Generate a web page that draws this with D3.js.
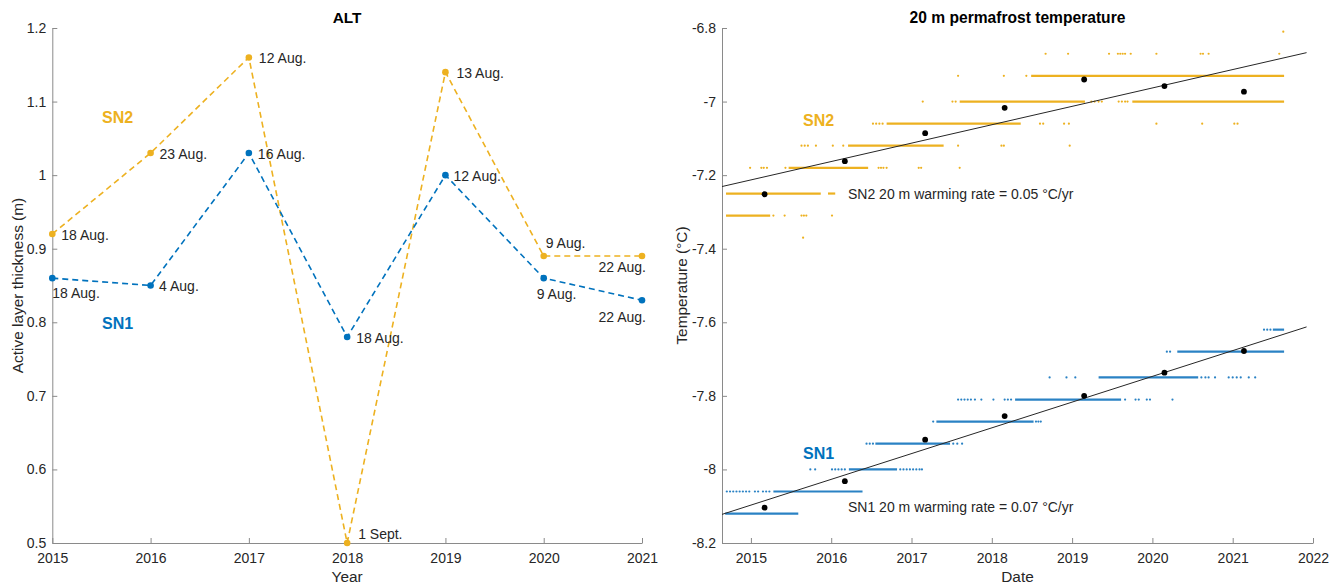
<!DOCTYPE html>
<html>
<head>
<meta charset="utf-8">
<script src="https://cdn.jsdelivr.net/npm/d3@7"></script>
<style>
  html, body { margin: 0; padding: 0; background: #fff; }
  svg { display: block; font-family: "Liberation Sans", Arial, Helvetica, sans-serif; }
  .axis path, .axis line { stroke: #8a8a8a; }
  .axis text { fill: #262626; font-size: 14px; }
</style>
</head>
<body>
<svg id="fig" width="1338" height="587"></svg>
<script>
// ---------- Active layer thickness (end-of-season probing) ----------
const altYears = [2015, 2016, 2017, 2018, 2019, 2020, 2021];
const altSN1 = [0.86, 0.85, 1.03, 0.78, 1.00, 0.86, 0.83];
const altSN2 = [0.92, 1.03, 1.16, 0.50, 1.14, 0.89, 0.89];
const altDatesSN1 = ["18 Aug.", "4 Aug.", "16 Aug.", "18 Aug.", "12 Aug.", "9 Aug.", "22 Aug."];
const altDatesSN2 = ["18 Aug.", "23 Aug.", "12 Aug.", "1 Sept.", "13 Aug.", "9 Aug.", "22 Aug."];
const altYTicks = [0.5, 0.6, 0.7, 0.8, 0.9, 1.0, 1.1, 1.2];

// ---------- 20 m permafrost temperature ----------
const tempXTicks = [2015, 2016, 2017, 2018, 2019, 2020, 2021, 2022];
const tempYTicks = [-8.2, -8.0, -7.8, -7.6, -7.4, -7.2, -7.0, -6.8];

// annual means (decimal year, °C)
const meanDates = [2015.17, 2016.17, 2017.17, 2018.16, 2019.15, 2020.15, 2021.14];
const meanSN1 = [-8.104, -8.032, -7.919, -7.855, -7.800, -7.737, -7.678];
const meanSN2 = [-7.252, -7.162, -7.086, -7.017, -6.940, -6.958, -6.973];

// linear warming trends
const rateSN1 = 0.07;
const rateSN2 = 0.05;
const trendPivotYear = 2018.3;
const trendPivotSN1 = -7.866;
const trendPivotSN2 = -7.048;
const trendSpan = [2014.64, 2021.92];

// logger readings: continuous runs [value, fromYear, toYear]
const runsSN2 = [
  [-7.31, 2014.69, 2015.24],
  [-7.25, 2014.69, 2015.87],
  [-7.25, 2015.96, 2016.05],
  [-7.18, 2015.47, 2016.46],
  [-7.12, 2016.21, 2017.40],
  [-7.06, 2016.69, 2018.36],
  [-7.00, 2017.60, 2019.16],
  [-7.00, 2019.75, 2021.64],
  [-6.93, 2018.49, 2021.64]
];
// isolated readings [value, year]
const dotsSN2 = [
  [-7.37, 2015.65],
  [-7.31, 2015.28], [-7.31, 2015.42], [-7.31, 2015.63], [-7.31, 2015.66], [-7.31, 2015.69], [-7.31, 2016.01],
  [-7.18, 2014.99], [-7.18, 2015.13], [-7.18, 2015.16], [-7.18, 2015.20], [-7.18, 2015.43],
  [-7.18, 2016.59], [-7.18, 2016.62], [-7.18, 2016.65], [-7.18, 2016.69],
  [-7.18, 2017.09], [-7.18, 2017.12], [-7.18, 2017.60],
  [-7.12, 2015.63], [-7.12, 2015.67], [-7.12, 2015.71], [-7.12, 2015.81], [-7.12, 2016.02],
  [-7.12, 2016.15], [-7.12, 2017.58], [-7.12, 2018.12], [-7.12, 2018.15], [-7.12, 2018.97],
  [-7.06, 2016.52], [-7.06, 2016.56], [-7.06, 2016.60], [-7.06, 2016.64],
  [-7.06, 2018.60], [-7.06, 2018.64], [-7.06, 2018.90], [-7.06, 2018.96],
  [-7.06, 2020.05], [-7.06, 2020.62], [-7.06, 2021.02], [-7.06, 2021.06],
  [-7.00, 2017.14], [-7.00, 2017.51], [-7.00, 2017.55],
  [-7.00, 2019.24], [-7.00, 2019.28], [-7.00, 2019.33], [-7.00, 2019.37],
  [-7.00, 2019.58], [-7.00, 2019.62], [-7.00, 2019.66], [-7.00, 2019.69],
  [-6.93, 2017.58], [-6.93, 2018.15], [-6.93, 2018.43],
  [-6.87, 2018.67], [-6.87, 2018.95], [-6.87, 2019.46], [-6.87, 2019.57], [-6.87, 2019.60],
  [-6.87, 2019.63], [-6.87, 2019.66], [-6.87, 2019.73], [-6.87, 2020.05],
  [-6.87, 2020.60], [-6.87, 2020.63], [-6.87, 2020.70], [-6.87, 2021.58],
  [-6.81, 2021.63]
];

const runsSN1 = [
  [-8.12, 2014.68, 2015.59],
  [-8.06, 2015.28, 2016.39],
  [-8.00, 2016.22, 2016.82],
  [-7.93, 2016.55, 2017.48],
  [-7.87, 2017.31, 2018.52],
  [-7.81, 2018.29, 2019.61],
  [-7.75, 2019.33, 2020.57],
  [-7.68, 2020.31, 2021.64],
  [-7.62, 2021.50, 2021.64]
];
const dotsSN1 = [
  [-8.06, 2014.70], [-8.06, 2014.74], [-8.06, 2014.78], [-8.06, 2014.82], [-8.06, 2014.86],
  [-8.06, 2014.90], [-8.06, 2014.94], [-8.06, 2014.98], [-8.06, 2015.05], [-8.06, 2015.09],
  [-8.06, 2015.15], [-8.06, 2015.19], [-8.06, 2015.23],
  [-8.00, 2015.74], [-8.00, 2015.80], [-8.00, 2016.01], [-8.00, 2016.05], [-8.00, 2016.09],
  [-8.00, 2016.13], [-8.00, 2016.17], [-8.00, 2016.86], [-8.00, 2016.90], [-8.00, 2016.94],
  [-8.00, 2016.98], [-8.00, 2017.02], [-8.00, 2017.06], [-8.00, 2017.10], [-8.00, 2017.13],
  [-7.93, 2016.44], [-7.93, 2016.48], [-7.93, 2016.52], [-7.93, 2017.52], [-7.93, 2017.57], [-7.93, 2017.63],
  [-7.87, 2017.27], [-7.87, 2018.55], [-7.87, 2018.58], [-7.87, 2018.61],
  [-7.81, 2017.58], [-7.81, 2017.62], [-7.81, 2017.66], [-7.81, 2017.70], [-7.81, 2017.74],
  [-7.81, 2017.79], [-7.81, 2017.87], [-7.81, 2018.02], [-7.81, 2018.16], [-7.81, 2018.20],
  [-7.81, 2018.24], [-7.81, 2019.66], [-7.81, 2019.79], [-7.81, 2019.83], [-7.81, 2019.93],
  [-7.81, 2019.97], [-7.81, 2020.25],
  [-7.75, 2018.72], [-7.75, 2018.93], [-7.75, 2019.04], [-7.75, 2020.61], [-7.75, 2020.66],
  [-7.75, 2020.70], [-7.75, 2020.78], [-7.75, 2020.95], [-7.75, 2021.00], [-7.75, 2021.05],
  [-7.75, 2021.10], [-7.75, 2021.20], [-7.75, 2021.28],
  [-7.68, 2020.18], [-7.68, 2020.22],
  [-7.62, 2021.39], [-7.62, 2021.43], [-7.62, 2021.47]
];

// ---------- styling ----------
const COL_SN1 = "#0072BD";
const COL_SN2 = "#EDB120";
const COL_SN1_LOG = "#2a82c4";
const TEXT = "#262626";

const svg = d3.select("#fig");
svg.append("rect").attr("width", 1338).attr("height", 587).attr("fill", "#fff");

// ===================== Left panel: ALT =====================
const L = { x0: 52.3, x1: 642, y0: 28, y1: 543 };
const xL = d3.scaleLinear().domain([2015, 2021]).range([L.x0, L.x1]);
const yL = d3.scaleLinear().domain([0.5, 1.2]).range([L.y1, L.y0]);

const gL = svg.append("g");
gL.append("g").attr("class", "axis")
  .attr("transform", `translate(0,${L.y1})`)
  .call(d3.axisBottom(xL).tickValues(altYears).tickFormat(d3.format("d"))
    .tickSizeInner(-5).tickSizeOuter(0).tickPadding(10));
gL.append("g").attr("class", "axis")
  .attr("transform", `translate(${L.x0},0)`)
  .call(d3.axisLeft(yL).tickValues(altYTicks).tickFormat(d => String(+d.toFixed(1)))
    .tickSizeInner(-5).tickSizeOuter(0).tickPadding(6));

gL.append("text").attr("x", (L.x0 + L.x1) / 2).attr("y", 18).attr("dy", "0.35em")
  .attr("text-anchor", "middle").attr("font-weight", "bold").attr("font-size", 15.4)
  .attr("fill", "#000").text("ALT");
gL.append("text").attr("x", (L.x0 + L.x1) / 2).attr("y", 577).attr("dy", "0.35em")
  .attr("text-anchor", "middle").attr("font-size", 15.4).attr("fill", TEXT).text("Year");
gL.append("text").attr("transform", `translate(18,${(L.y0 + L.y1) / 2}) rotate(-90)`)
  .attr("dy", "0.35em").attr("text-anchor", "middle").attr("font-size", 15.4)
  .attr("fill", TEXT).text("Active layer thickness (m)");

const lineL = d3.line().x((d, i) => xL(altYears[i])).y(d => yL(d));
[[altSN2, COL_SN2], [altSN1, COL_SN1]].forEach(([vals, col]) => {
  gL.append("path").attr("d", lineL(vals)).attr("fill", "none")
    .attr("stroke", col).attr("stroke-width", 1.6).attr("stroke-dasharray", "6,4");
  gL.selectAll(null).data(vals).enter().append("circle")
    .attr("cx", (d, i) => xL(altYears[i])).attr("cy", d => yL(d))
    .attr("r", 3.3).attr("fill", col);
});

// date annotation placement: [dx, dy, anchor]
const placeSN2 = [[9, 1, "start"], [9, 1, "start"], [10, 1, "start"], [11, -9, "start"],
                  [11, 1, "start"], [2, -13, "start"], [4, 11, "end"]];
const placeSN1 = [[0, 15, "start"], [8.5, 1, "start"], [9, 1, "start"], [9, 1, "start"],
                  [8, 1, "start"], [-7, 16, "start"], [4, 16.5, "end"]];
[[altSN2, altDatesSN2, placeSN2], [altSN1, altDatesSN1, placeSN1]].forEach(([vals, labels, place]) => {
  gL.selectAll(null).data(vals).enter().append("text")
    .attr("x", (d, i) => xL(altYears[i]) + place[i][0])
    .attr("y", (d, i) => yL(d) + place[i][1])
    .attr("dy", "0.35em").attr("text-anchor", (d, i) => place[i][2])
    .attr("font-size", 14).attr("fill", TEXT)
    .text((d, i) => labels[i]);
});

gL.append("text").attr("x", 102).attr("y", 117).attr("dy", "0.35em")
  .attr("font-weight", "bold").attr("font-size", 16).attr("fill", COL_SN2).text("SN2");
gL.append("text").attr("x", 102).attr("y", 323.5).attr("dy", "0.35em")
  .attr("font-weight", "bold").attr("font-size", 16).attr("fill", COL_SN1).text("SN1");

// ===================== Right panel: 20 m temperature =====================
const R = { x0: 722, x1: 1313, y0: 28, y1: 543 };
const xR = d3.scaleLinear().domain([2014.64, 2022]).range([R.x0, R.x1]);
const yR = d3.scaleLinear().domain([-8.2, -6.8]).range([R.y1, R.y0]);

const gR = svg.append("g");
gR.append("g").attr("class", "axis")
  .attr("transform", `translate(0,${R.y1})`)
  .call(d3.axisBottom(xR).tickValues(tempXTicks).tickFormat(d3.format("d"))
    .tickSizeInner(-5).tickSizeOuter(0).tickPadding(10));
gR.append("g").attr("class", "axis")
  .attr("transform", `translate(${R.x0},0)`)
  .call(d3.axisLeft(yR).tickValues(tempYTicks).tickFormat(d => String(+d.toFixed(1)))
    .tickSizeInner(-5).tickSizeOuter(0).tickPadding(6));

gR.append("text").attr("x", (R.x0 + R.x1) / 2).attr("y", 18).attr("dy", "0.35em")
  .attr("text-anchor", "middle").attr("font-weight", "bold").attr("font-size", 15.6)
  .attr("fill", "#000").text("20 m permafrost temperature");
gR.append("text").attr("x", (R.x0 + R.x1) / 2).attr("y", 577).attr("dy", "0.35em")
  .attr("text-anchor", "middle").attr("font-size", 15.4).attr("fill", TEXT).text("Date");
gR.append("text").attr("transform", `translate(682,${(R.y0 + R.y1) / 2}) rotate(-90)`)
  .attr("dy", "0.35em").attr("text-anchor", "middle").attr("font-size", 15.4)
  .attr("fill", TEXT).text("Temperature (°C)");

const plot = gR.append("g");
[[runsSN2, COL_SN2], [runsSN1, COL_SN1_LOG]].forEach(([runs, col]) => {
  plot.selectAll(null).data(runs).enter().append("line")
    .attr("x1", d => xR(d[1])).attr("x2", d => xR(d[2]))
    .attr("y1", d => yR(d[0])).attr("y2", d => yR(d[0]))
    .attr("stroke", col).attr("stroke-width", 2.2);
});
[[dotsSN2, COL_SN2], [dotsSN1, COL_SN1_LOG]].forEach(([dots, col]) => {
  plot.selectAll(null).data(dots).enter().append("circle")
    .attr("cx", d => xR(d[1])).attr("cy", d => yR(d[0]))
    .attr("r", 1.1).attr("fill", col);
});

// trend lines
[[rateSN2, trendPivotSN2], [rateSN1, trendPivotSN1]].forEach(([rate, pivot]) => {
  const f = t => pivot + rate * (t - trendPivotYear);
  plot.append("line")
    .attr("x1", xR(trendSpan[0])).attr("y1", yR(f(trendSpan[0])))
    .attr("x2", xR(trendSpan[1])).attr("y2", yR(f(trendSpan[1])))
    .attr("stroke", "#262626").attr("stroke-width", 1);
});

// annual means
[meanSN2, meanSN1].forEach(vals => {
  plot.selectAll(null).data(vals).enter().append("circle")
    .attr("cx", (d, i) => xR(meanDates[i])).attr("cy", d => yR(d))
    .attr("r", 2.9).attr("fill", "#000");
});

gR.append("text").attr("x", 848).attr("y", 194).attr("dy", "0.35em")
  .attr("font-size", 14).attr("fill", TEXT)
  .text(`SN2 20 m warming rate = ${rateSN2.toFixed(2)} °C/yr`);
gR.append("text").attr("x", 848).attr("y", 507).attr("dy", "0.35em")
  .attr("font-size", 14).attr("fill", TEXT)
  .text(`SN1 20 m warming rate = ${rateSN1.toFixed(2)} °C/yr`);
gR.append("text").attr("x", 803).attr("y", 120).attr("dy", "0.35em")
  .attr("font-weight", "bold").attr("font-size", 16).attr("fill", COL_SN2).text("SN2");
gR.append("text").attr("x", 803).attr("y", 453).attr("dy", "0.35em")
  .attr("font-weight", "bold").attr("font-size", 16).attr("fill", COL_SN1).text("SN1");
</script>
</body>
</html>
